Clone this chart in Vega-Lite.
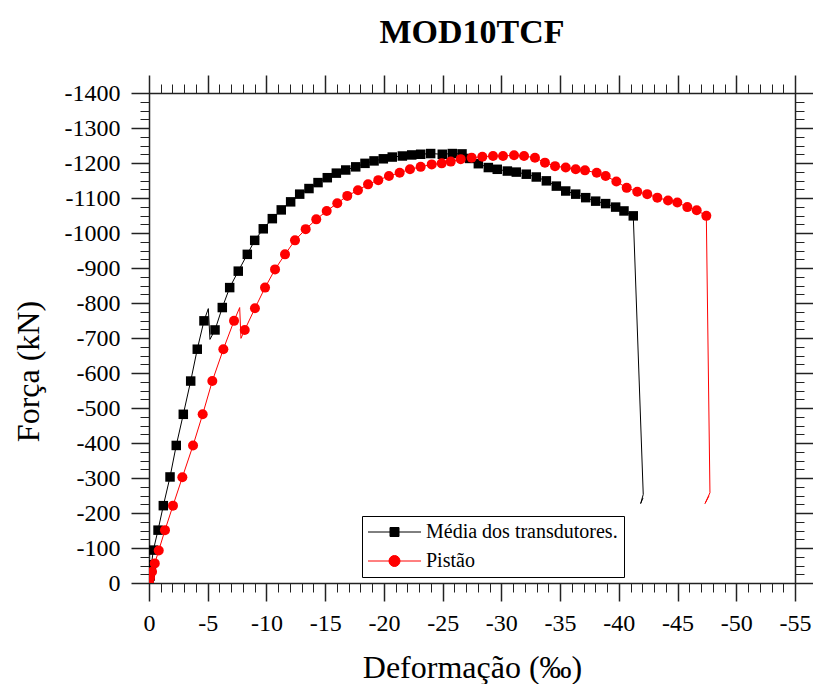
{
  "$schema": "https://vega.github.io/schema/vega-lite/v6.json",
  "width": 646,
  "height": 490,
  "autosize": {"type": "none"},
  "padding": {"left": 149, "top": 93, "right": 18, "bottom": 101},
  "background": "white",
  "title": {"text": "MOD10TCF", "font": "Liberation Serif", "fontSize": 34, "fontWeight": "bold", "color": "black", "anchor": "middle", "baseline": "alphabetic", "offset": -3},
  "data": {"values": [
    {"serie": "Média dos transdutores.", "i": 0, "x": 0, "y": 0, "m": 1},
    {"serie": "Média dos transdutores.", "i": 1, "x": -0.1, "y": -20, "m": 1},
    {"serie": "Média dos transdutores.", "i": 2, "x": -0.2, "y": -52, "m": 1},
    {"serie": "Média dos transdutores.", "i": 3, "x": -0.37, "y": -94, "m": 1},
    {"serie": "Média dos transdutores.", "i": 4, "x": -0.77, "y": -151, "m": 1},
    {"serie": "Média dos transdutores.", "i": 5, "x": -1.22, "y": -221, "m": 1},
    {"serie": "Média dos transdutores.", "i": 6, "x": -1.79, "y": -303, "m": 1},
    {"serie": "Média dos transdutores.", "i": 7, "x": -2.32, "y": -393, "m": 1},
    {"serie": "Média dos transdutores.", "i": 8, "x": -2.92, "y": -482, "m": 1},
    {"serie": "Média dos transdutores.", "i": 9, "x": -3.55, "y": -577, "m": 1},
    {"serie": "Média dos transdutores.", "i": 10, "x": -4.11, "y": -668, "m": 1},
    {"serie": "Média dos transdutores.", "i": 11, "x": -4.68, "y": -749, "m": 1},
    {"serie": "Média dos transdutores.", "i": 12, "x": -5.05, "y": -784, "m": 0},
    {"serie": "Média dos transdutores.", "i": 13, "x": -5.19, "y": -696, "m": 0},
    {"serie": "Média dos transdutores.", "i": 14, "x": -5.62, "y": -723, "m": 1},
    {"serie": "Média dos transdutores.", "i": 15, "x": -6.24, "y": -787, "m": 1},
    {"serie": "Média dos transdutores.", "i": 16, "x": -6.87, "y": -844, "m": 1},
    {"serie": "Média dos transdutores.", "i": 17, "x": -7.6, "y": -891, "m": 1},
    {"serie": "Média dos transdutores.", "i": 18, "x": -8.37, "y": -939, "m": 1},
    {"serie": "Média dos transdutores.", "i": 19, "x": -9.0, "y": -979, "m": 1},
    {"serie": "Média dos transdutores.", "i": 20, "x": -9.73, "y": -1012, "m": 1},
    {"serie": "Média dos transdutores.", "i": 21, "x": -10.5, "y": -1041, "m": 1},
    {"serie": "Média dos transdutores.", "i": 22, "x": -11.26, "y": -1066, "m": 1},
    {"serie": "Média dos transdutores.", "i": 23, "x": -12.06, "y": -1089, "m": 1},
    {"serie": "Média dos transdutores.", "i": 24, "x": -12.83, "y": -1111, "m": 1},
    {"serie": "Média dos transdutores.", "i": 25, "x": -13.62, "y": -1127, "m": 1},
    {"serie": "Média dos transdutores.", "i": 26, "x": -14.39, "y": -1144, "m": 1},
    {"serie": "Média dos transdutores.", "i": 27, "x": -15.18, "y": -1158, "m": 1},
    {"serie": "Média dos transdutores.", "i": 28, "x": -15.95, "y": -1171, "m": 1},
    {"serie": "Média dos transdutores.", "i": 29, "x": -16.75, "y": -1180, "m": 1},
    {"serie": "Média dos transdutores.", "i": 30, "x": -17.6, "y": -1189, "m": 1},
    {"serie": "Média dos transdutores.", "i": 31, "x": -18.39, "y": -1199, "m": 1},
    {"serie": "Média dos transdutores.", "i": 32, "x": -19.16, "y": -1206, "m": 1},
    {"serie": "Média dos transdutores.", "i": 33, "x": -19.95, "y": -1212, "m": 1},
    {"serie": "Média dos transdutores.", "i": 34, "x": -20.71, "y": -1217, "m": 1},
    {"serie": "Média dos transdutores.", "i": 35, "x": -21.57, "y": -1220, "m": 1},
    {"serie": "Média dos transdutores.", "i": 36, "x": -22.37, "y": -1223, "m": 1},
    {"serie": "Média dos transdutores.", "i": 37, "x": -23.13, "y": -1225, "m": 1},
    {"serie": "Média dos transdutores.", "i": 38, "x": -23.98, "y": -1227, "m": 1},
    {"serie": "Média dos transdutores.", "i": 39, "x": -24.97, "y": -1225, "m": 1},
    {"serie": "Média dos transdutores.", "i": 40, "x": -25.82, "y": -1227, "m": 1},
    {"serie": "Média dos transdutores.", "i": 41, "x": -26.65, "y": -1226, "m": 1},
    {"serie": "Média dos transdutores.", "i": 42, "x": -27.29, "y": -1213, "m": 1},
    {"serie": "Média dos transdutores.", "i": 43, "x": -28.04, "y": -1198, "m": 1},
    {"serie": "Média dos transdutores.", "i": 44, "x": -28.89, "y": -1187, "m": 1},
    {"serie": "Média dos transdutores.", "i": 45, "x": -29.65, "y": -1182, "m": 1},
    {"serie": "Média dos transdutores.", "i": 46, "x": -30.51, "y": -1177, "m": 1},
    {"serie": "Média dos transdutores.", "i": 47, "x": -31.27, "y": -1174, "m": 1},
    {"serie": "Média dos transdutores.", "i": 48, "x": -32.12, "y": -1168, "m": 1},
    {"serie": "Média dos transdutores.", "i": 49, "x": -32.97, "y": -1160, "m": 1},
    {"serie": "Média dos transdutores.", "i": 50, "x": -33.83, "y": -1149, "m": 1},
    {"serie": "Média dos transdutores.", "i": 51, "x": -34.68, "y": -1134, "m": 1},
    {"serie": "Média dos transdutores.", "i": 52, "x": -35.48, "y": -1120, "m": 1},
    {"serie": "Média dos transdutores.", "i": 53, "x": -36.33, "y": -1111, "m": 1},
    {"serie": "Média dos transdutores.", "i": 54, "x": -37.18, "y": -1101, "m": 1},
    {"serie": "Média dos transdutores.", "i": 55, "x": -38.03, "y": -1091, "m": 1},
    {"serie": "Média dos transdutores.", "i": 56, "x": -38.88, "y": -1084, "m": 1},
    {"serie": "Média dos transdutores.", "i": 57, "x": -39.73, "y": -1074, "m": 1},
    {"serie": "Média dos transdutores.", "i": 58, "x": -40.44, "y": -1063, "m": 1},
    {"serie": "Média dos transdutores.", "i": 59, "x": -41.23, "y": -1049, "m": 1},
    {"serie": "Média dos transdutores.", "i": 60, "x": -42.08, "y": -253, "m": 0},
    {"serie": "Média dos transdutores.", "i": 61, "x": -41.86, "y": -227, "m": 0},
    {"serie": "Média dos transdutores.", "i": 62, "x": -42.06, "y": -243, "m": 0},
    {"serie": "Pistão", "i": 0, "x": 0, "y": 0, "m": 1},
    {"serie": "Pistão", "i": 1, "x": -0.09, "y": -15, "m": 1},
    {"serie": "Pistão", "i": 2, "x": -0.26, "y": -32, "m": 1},
    {"serie": "Pistão", "i": 3, "x": -0.49, "y": -56, "m": 1},
    {"serie": "Pistão", "i": 4, "x": -0.83, "y": -93, "m": 1},
    {"serie": "Pistão", "i": 5, "x": -1.36, "y": -151, "m": 1},
    {"serie": "Pistão", "i": 6, "x": -2.04, "y": -221, "m": 1},
    {"serie": "Pistão", "i": 7, "x": -2.84, "y": -302, "m": 1},
    {"serie": "Pistão", "i": 8, "x": -3.75, "y": -393, "m": 1},
    {"serie": "Pistão", "i": 9, "x": -4.57, "y": -482, "m": 1},
    {"serie": "Pistão", "i": 10, "x": -5.39, "y": -577, "m": 1},
    {"serie": "Pistão", "i": 11, "x": -6.33, "y": -668, "m": 1},
    {"serie": "Pistão", "i": 12, "x": -7.24, "y": -749, "m": 1},
    {"serie": "Pistão", "i": 13, "x": -7.72, "y": -787, "m": 0},
    {"serie": "Pistão", "i": 14, "x": -7.83, "y": -699, "m": 0},
    {"serie": "Pistão", "i": 15, "x": -8.15, "y": -723, "m": 1},
    {"serie": "Pistão", "i": 16, "x": -9.02, "y": -785, "m": 1},
    {"serie": "Pistão", "i": 17, "x": -9.88, "y": -844, "m": 1},
    {"serie": "Pistão", "i": 18, "x": -10.73, "y": -896, "m": 1},
    {"serie": "Pistão", "i": 19, "x": -11.58, "y": -939, "m": 1},
    {"serie": "Pistão", "i": 20, "x": -12.43, "y": -979, "m": 1},
    {"serie": "Pistão", "i": 21, "x": -13.34, "y": -1011, "m": 1},
    {"serie": "Pistão", "i": 22, "x": -14.24, "y": -1039, "m": 1},
    {"serie": "Pistão", "i": 23, "x": -15.13, "y": -1063, "m": 1},
    {"serie": "Pistão", "i": 24, "x": -16.03, "y": -1085, "m": 1},
    {"serie": "Pistão", "i": 25, "x": -16.88, "y": -1106, "m": 1},
    {"serie": "Pistão", "i": 26, "x": -17.79, "y": -1122, "m": 1},
    {"serie": "Pistão", "i": 27, "x": -18.65, "y": -1139, "m": 1},
    {"serie": "Pistão", "i": 28, "x": -19.52, "y": -1151, "m": 1},
    {"serie": "Pistão", "i": 29, "x": -20.43, "y": -1163, "m": 1},
    {"serie": "Pistão", "i": 30, "x": -21.34, "y": -1172, "m": 1},
    {"serie": "Pistão", "i": 31, "x": -22.22, "y": -1182, "m": 1},
    {"serie": "Pistão", "i": 32, "x": -23.13, "y": -1189, "m": 1},
    {"serie": "Pistão", "i": 33, "x": -24.07, "y": -1196, "m": 1},
    {"serie": "Pistão", "i": 34, "x": -24.92, "y": -1199, "m": 1},
    {"serie": "Pistão", "i": 35, "x": -25.69, "y": -1204, "m": 1},
    {"serie": "Pistão", "i": 36, "x": -26.54, "y": -1211, "m": 1},
    {"serie": "Pistão", "i": 37, "x": -27.47, "y": -1215, "m": 1},
    {"serie": "Pistão", "i": 38, "x": -28.38, "y": -1218, "m": 1},
    {"serie": "Pistão", "i": 39, "x": -29.29, "y": -1220, "m": 1},
    {"serie": "Pistão", "i": 40, "x": -30.14, "y": -1220, "m": 1},
    {"serie": "Pistão", "i": 41, "x": -31.08, "y": -1222, "m": 1},
    {"serie": "Pistão", "i": 42, "x": -31.93, "y": -1220, "m": 1},
    {"serie": "Pistão", "i": 43, "x": -32.86, "y": -1215, "m": 1},
    {"serie": "Pistão", "i": 44, "x": -33.71, "y": -1201, "m": 1},
    {"serie": "Pistão", "i": 45, "x": -34.57, "y": -1191, "m": 1},
    {"serie": "Pistão", "i": 46, "x": -35.48, "y": -1187, "m": 1},
    {"serie": "Pistão", "i": 47, "x": -36.33, "y": -1182, "m": 1},
    {"serie": "Pistão", "i": 48, "x": -37.12, "y": -1179, "m": 1},
    {"serie": "Pistão", "i": 49, "x": -38.12, "y": -1172, "m": 1},
    {"serie": "Pistão", "i": 50, "x": -38.88, "y": -1163, "m": 1},
    {"serie": "Pistão", "i": 51, "x": -39.79, "y": -1147, "m": 1},
    {"serie": "Pistão", "i": 52, "x": -40.67, "y": -1129, "m": 1},
    {"serie": "Pistão", "i": 53, "x": -41.57, "y": -1118, "m": 1},
    {"serie": "Pistão", "i": 54, "x": -42.42, "y": -1111, "m": 1},
    {"serie": "Pistão", "i": 55, "x": -43.28, "y": -1101, "m": 1},
    {"serie": "Pistão", "i": 56, "x": -44.19, "y": -1093, "m": 1},
    {"serie": "Pistão", "i": 57, "x": -44.98, "y": -1087, "m": 1},
    {"serie": "Pistão", "i": 58, "x": -45.83, "y": -1074, "m": 1},
    {"serie": "Pistão", "i": 59, "x": -46.63, "y": -1065, "m": 1},
    {"serie": "Pistão", "i": 60, "x": -47.45, "y": -1049, "m": 1},
    {"serie": "Pistão", "i": 61, "x": -47.76, "y": -258, "m": 0},
    {"serie": "Pistão", "i": 62, "x": -47.34, "y": -227, "m": 0},
    {"serie": "Pistão", "i": 63, "x": -47.68, "y": -249, "m": 0}
  ]},
  "layer": [
    {
      "transform": [{"filter": "datum.serie === 'Média dos transdutores.'"}],
      "mark": {"type": "line", "color": "#000000", "strokeWidth": 1, "clip": true},
      "encoding": {
        "x": {"field": "x", "type": "quantitative", "scale": {"domain": [0, -55], "nice": false, "zero": false},
          "axis": {"orient": "bottom", "values": [0, -5, -10, -15, -20, -25, -30, -35, -40, -45, -50, -55], "tickSize": 18, "tickWidth": 1.5, "tickColor": "#222222", "domain": true, "domainColor": "#222222", "domainWidth": 1.5, "labelFont": "Liberation Serif", "labelFontSize": 24, "labelColor": "#000000", "labelPadding": 10, "labelExpr": "'' + datum.value", "labelFlush": false, "labelOverlap": false, "grid": false, "title": "Deformação (‰)", "titleFont": "Liberation Serif", "titleFontSize": 32, "titleFontWeight": "normal", "titleColor": "#000000", "titleBaseline": "alphabetic", "titleY": 94}},
        "y": {"field": "y", "type": "quantitative", "scale": {"domain": [0, -1400], "nice": false, "zero": false},
          "axis": {"orient": "left", "values": [0, -100, -200, -300, -400, -500, -600, -700, -800, -900, -1000, -1100, -1200, -1300, -1400], "tickSize": 18, "tickWidth": 1.5, "tickColor": "#222222", "domain": true, "domainColor": "#222222", "domainWidth": 1.5, "labelFont": "Liberation Serif", "labelFontSize": 24, "labelColor": "#000000", "labelPadding": 11, "labelExpr": "'' + datum.value", "labelFlush": false, "labelOverlap": false, "grid": false, "title": "Força (kN)", "titleFont": "Liberation Serif", "titleFontSize": 32, "titleFontWeight": "normal", "titleColor": "#000000", "titleAngle": -90, "titleBaseline": "alphabetic", "titleAlign": "center", "titleX": -111, "titleY": 278}},
        "order": {"field": "i", "type": "quantitative"}
      }
    },
    {
      "transform": [{"filter": "datum.serie === 'Pistão'"}],
      "mark": {"type": "line", "color": "#ff0000", "strokeWidth": 1, "clip": true},
      "encoding": {
        "x": {"field": "x", "type": "quantitative", "scale": {"domain": [0, -55], "nice": false, "zero": false},
          "axis": {"orient": "bottom", "values": [0, -1, -2, -3, -4, -5, -6, -7, -8, -9, -10, -11, -12, -13, -14, -15, -16, -17, -18, -19, -20, -21, -22, -23, -24, -25, -26, -27, -28, -29, -30, -31, -32, -33, -34, -35, -36, -37, -38, -39, -40, -41, -42, -43, -44, -45, -46, -47, -48, -49, -50, -51, -52, -53, -54, -55], "tickSize": 9, "tickWidth": 1, "tickColor": "#222222", "domain": false, "labels": false, "grid": false, "title": null}},
        "y": {"field": "y", "type": "quantitative", "scale": {"domain": [0, -1400], "nice": false, "zero": false},
          "axis": {"orient": "left", "values": [0, -25, -50, -75, -100, -125, -150, -175, -200, -225, -250, -275, -300, -325, -350, -375, -400, -425, -450, -475, -500, -525, -550, -575, -600, -625, -650, -675, -700, -725, -750, -775, -800, -825, -850, -875, -900, -925, -950, -975, -1000, -1025, -1050, -1075, -1100, -1125, -1150, -1175, -1200, -1225, -1250, -1275, -1300, -1325, -1350, -1375, -1400], "tickSize": 9, "tickWidth": 1, "tickColor": "#222222", "domain": false, "labels": false, "grid": false, "title": null}},
        "order": {"field": "i", "type": "quantitative"}
      }
    },
    {
      "transform": [{"filter": "datum.serie === 'Média dos transdutores.' && datum.m === 1"}],
      "mark": {"type": "point", "shape": "square", "filled": true, "size": 90, "opacity": 1, "clip": true},
      "encoding": {
        "x": {"field": "x", "type": "quantitative", "scale": {"domain": [0, -55], "nice": false, "zero": false},
          "axis": {"orient": "top", "values": [0, -5, -10, -15, -20, -25, -30, -35, -40, -45, -50, -55], "tickSize": 18, "tickWidth": 1.5, "tickColor": "#222222", "domain": true, "domainColor": "#222222", "domainWidth": 1.5, "labels": false, "grid": false, "title": null}},
        "y": {"field": "y", "type": "quantitative", "scale": {"domain": [0, -1400], "nice": false, "zero": false},
          "axis": {"orient": "right", "values": [0, -100, -200, -300, -400, -500, -600, -700, -800, -900, -1000, -1100, -1200, -1300, -1400], "tickSize": 18, "tickWidth": 1.5, "tickColor": "#222222", "domain": true, "domainColor": "#222222", "domainWidth": 1.5, "labels": false, "grid": false, "title": null}},
        "color": {"field": "serie", "type": "nominal",
          "scale": {"domain": ["Média dos transdutores.", "Pistão"], "range": ["#000000", "#ff0000"]},
          "legend": {"orient": "none", "legendX": 213, "legendY": 423, "title": null, "symbolSize": 100, "symbolStrokeWidth": 1,
            "symbolType": {"expr": "datum.value === 'Pistão' ? 'M-2,0H8.6M2.2,0A1.1,1.1,0,1,1,4.4,0A1.1,1.1,0,1,1,2.2,0Z' : 'M-2,0H8.6M2.4,-0.9H4.2V0.9H2.4Z'"},
            "symbolStrokeColor": {"expr": "datum.value === 'Pistão' ? '#ff0000' : '#000000'"},
            "symbolOpacity": 1,
            "labelFont": "Liberation Serif", "labelFontSize": 20, "labelColor": "#000000", "labelOffset": 38, "labelLimit": 400, "padding": 6, "rowPadding": 9, "strokeColor": "#000000", "fillColor": "#ffffff", "cornerRadius": 0}
        }
      }
    },
    {
      "transform": [{"filter": "datum.serie === 'Pistão' && datum.m === 1"}],
      "mark": {"type": "point", "shape": "circle", "filled": true, "size": 100, "opacity": 1, "clip": true},
      "encoding": {
        "x": {"field": "x", "type": "quantitative", "scale": {"domain": [0, -55], "nice": false, "zero": false},
          "axis": {"orient": "top", "values": [0, -1, -2, -3, -4, -5, -6, -7, -8, -9, -10, -11, -12, -13, -14, -15, -16, -17, -18, -19, -20, -21, -22, -23, -24, -25, -26, -27, -28, -29, -30, -31, -32, -33, -34, -35, -36, -37, -38, -39, -40, -41, -42, -43, -44, -45, -46, -47, -48, -49, -50, -51, -52, -53, -54, -55], "tickSize": 9, "tickWidth": 1, "tickColor": "#222222", "domain": false, "labels": false, "grid": false, "title": null}},
        "y": {"field": "y", "type": "quantitative", "scale": {"domain": [0, -1400], "nice": false, "zero": false},
          "axis": {"orient": "right", "values": [0, -25, -50, -75, -100, -125, -150, -175, -200, -225, -250, -275, -300, -325, -350, -375, -400, -425, -450, -475, -500, -525, -550, -575, -600, -625, -650, -675, -700, -725, -750, -775, -800, -825, -850, -875, -900, -925, -950, -975, -1000, -1025, -1050, -1075, -1100, -1125, -1150, -1175, -1200, -1225, -1250, -1275, -1300, -1325, -1350, -1375, -1400], "tickSize": 9, "tickWidth": 1, "tickColor": "#222222", "domain": false, "labels": false, "grid": false, "title": null}},
        "color": {"field": "serie", "type": "nominal",
          "scale": {"domain": ["Média dos transdutores.", "Pistão"], "range": ["#000000", "#ff0000"]},
          "legend": null}
      }
    }
  ],
  "resolve": {"axis": {"x": "independent", "y": "independent"}},
  "config": {"view": {"stroke": null}, "axis": {"grid": false}}
}
